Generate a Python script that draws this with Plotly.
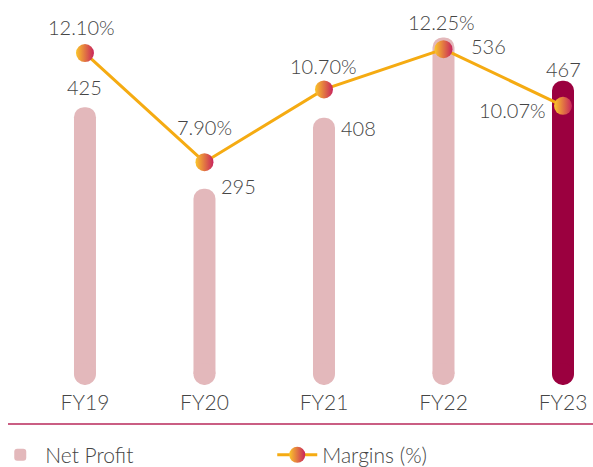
import plotly.graph_objects as go

years = ["FY19", "FY20", "FY21", "FY22", "FY23"]
net_profit = [425, 295, 408, 536, 467]
margins = [12.10, 7.90, 10.70, 12.25, 10.07]
margin_labels = ["12.10%", "7.90%", "10.70%", "12.25%", "10.07%"]

PINK = "#e3b8bb"
WINE = "#9b003f"
LINE = "#f5ab12"
TXT = "#454545"
FONT = "Lato"

bar_colors = [PINK] * 4 + [WINE]

fig = go.Figure()

# pill bars: rounded top via corner radius, round base via a circle marker
fig.add_trace(go.Bar(
    x=years, y=net_profit, name="Net Profit",
    marker=dict(color=bar_colors, line=dict(width=0)),
    width=0.184, showlegend=True,
))
fig.add_trace(go.Scatter(
    x=years, y=[0] * len(years), mode="markers",
    marker=dict(size=22, color=bar_colors, line=dict(width=0)),
    showlegend=False, hoverinfo="skip",
))
fig.add_trace(go.Scatter(
    x=years, y=margins, name="Margins (%)", yaxis="y2",
    mode="lines+markers",
    line=dict(color=LINE, width=3),
    marker=dict(size=18, color="#fbc62a",
                gradient=dict(type="horizontal", color="#c8245c"),
                line=dict(width=0)),
))

# value labels (offsets in px relative to the data point)
bar_shift = [(0, 20), (34, 3), (35, -10), (45, -9), (0, 12)]
for yr, v, (dx, dy) in zip(years, net_profit, bar_shift):
    fig.add_annotation(x=yr, y=v, text=str(v), showarrow=False,
                       xshift=dx, yshift=dy, yanchor="middle",
                       font=dict(family=FONT, size=20, color=TXT, weight=300))

pct_shift = [(-3, 26), (0, 35), (0, 23), (-2, 27), (-51, -4)]
for yr, v, lab, (dx, dy) in zip(years, margins, margin_labels, pct_shift):
    fig.add_annotation(x=yr, y=v, yref="y2", text=lab, showarrow=False,
                       xshift=dx, yshift=dy, yanchor="middle",
                       font=dict(family=FONT, size=20, color=TXT, weight=300))

# divider line under the axis labels
fig.add_shape(type="line", xref="paper", yref="paper",
              x0=0.0135, x1=1, y0=-0.101, y1=-0.101,
              line=dict(color="#b8285a", width=1.5))

fig.update_layout(
    width=593, height=467,
    margin=dict(l=0, r=0, t=0, b=82, autoexpand=False),
    paper_bgcolor="white", plot_bgcolor="white",
    barcornerradius=11,
    font=dict(family=FONT, color=TXT, weight=300),
    xaxis=dict(range=[-0.711, 4.251], showgrid=False, zeroline=False,
               showline=False, ticks="", ticklabelstandoff=3,
               tickfont=dict(family=FONT, size=21, color=TXT, weight=300)),
    yaxis=dict(range=[-17.5, 595.6], visible=False, showgrid=False),
    yaxis2=dict(range=[-0.67, 14.14], overlaying="y", visible=False,
                showgrid=False),
    legend=dict(orientation="h", x=-0.008, y=-0.182, yanchor="middle",
                xanchor="left", entrywidth=222, entrywidthmode="pixels",
                bgcolor="rgba(0,0,0,0)",
                font=dict(family=FONT, size=21, color=TXT, weight=300),
                itemwidth=40),
)

fig.write_html("out.html", config={"displayModeBar": False},
               post_script="document.body.style.margin='0';")
